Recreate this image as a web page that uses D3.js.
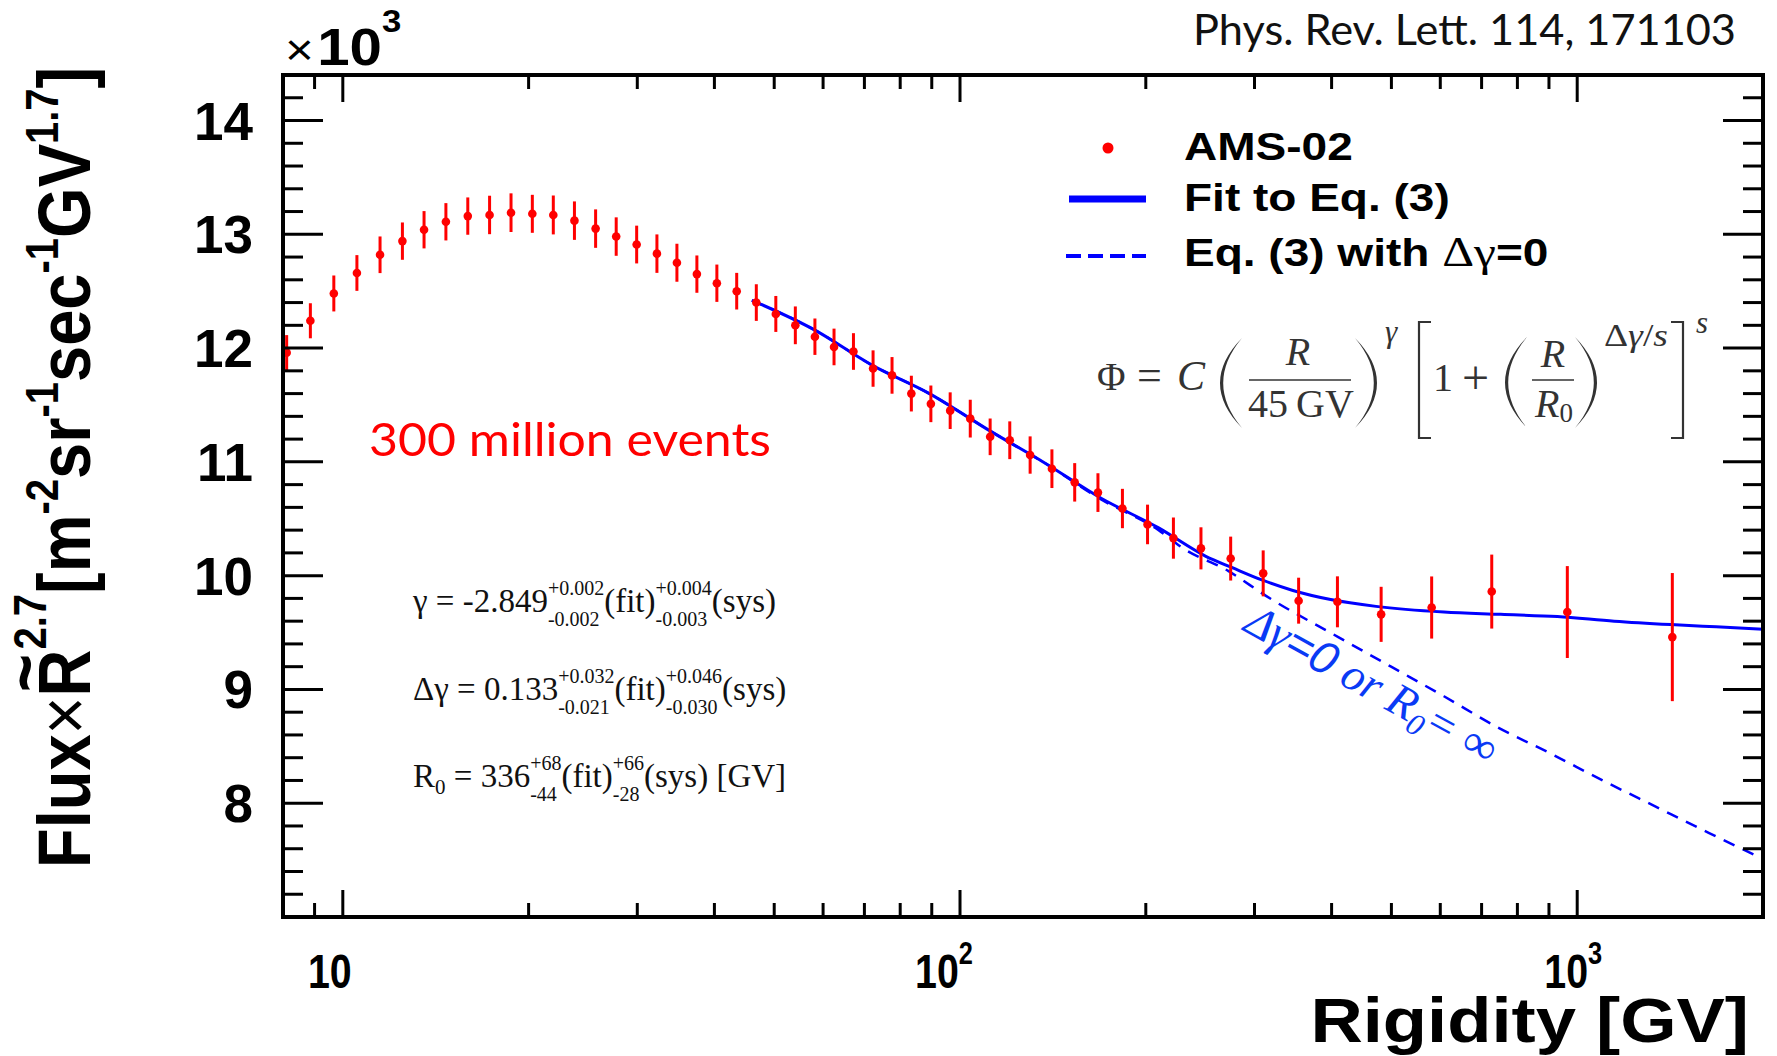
<!DOCTYPE html>
<html>
<head>
<meta charset="utf-8">
<script src="https://cdn.jsdelivr.net/npm/d3@7"></script>
<style>
  html, body { margin: 0; padding: 0; background: #fff; }
  svg { display: block; }
</style>
</head>
<body>
<svg id="chart" width="1777" height="1056"></svg>
<script>
// AMS-02 proton flux x R^2.7 (in units of 10^3)
const rigidity = [8.11, 8.86, 9.67, 10.54, 11.49, 12.49, 13.54, 14.69, 15.94, 17.29,
  18.73, 20.28, 21.93, 23.73, 25.68, 27.73, 29.93, 32.28, 34.78, 37.47,
  40.37, 43.47, 46.77, 50.3, 54.1, 58.2, 62.5, 67.2, 72.3, 77.6,
  83.4, 89.7, 96.4, 103.9, 111.9, 120.4, 129.9, 140.9, 153.4, 167.3,
  183.3, 201.3, 221.7, 245.7, 274.5, 309.9, 353.7, 408.8, 481.2, 581.0,
  727.0, 963.8, 1426];
const flux = [11.96, 12.24, 12.48, 12.66, 12.82, 12.94, 13.04, 13.11, 13.16, 13.17,
  13.19, 13.18, 13.17, 13.12, 13.05, 12.98, 12.91, 12.83, 12.75, 12.65,
  12.57, 12.50, 12.40, 12.30, 12.20, 12.10, 12.01, 11.97, 11.82, 11.76,
  11.60, 11.51, 11.45, 11.38, 11.22, 11.19, 11.06, 10.94, 10.82, 10.73,
  10.59, 10.45, 10.33, 10.24, 10.15, 10.02, 9.78, 9.77, 9.66, 9.72,
  9.86, 9.68, 9.46];
const fluxErr = [0.154, 0.154, 0.158, 0.157, 0.161, 0.164, 0.164, 0.164, 0.164, 0.169,
  0.170, 0.167, 0.171, 0.169, 0.169, 0.169, 0.166, 0.169, 0.167, 0.164,
  0.164, 0.161, 0.161, 0.158, 0.166, 0.160, 0.161, 0.161, 0.160, 0.161,
  0.157, 0.161, 0.161, 0.166, 0.161, 0.166, 0.164, 0.170, 0.169, 0.170,
  0.173, 0.174, 0.181, 0.185, 0.193, 0.202, 0.202, 0.224, 0.242, 0.273,
  0.325, 0.404, 0.563];

// fit to Eq. (3), sampled from the drawn curve
const fitRigidity = [46, 58.1, 72.0, 89.2, 112, 137.2, 169.3, 209.8, 250.2, 276.2,
  309.2, 346.2, 398.6, 472.1, 608.3, 751.8, 928.8, 1148, 1418, 1679, 2000];
const fitFlux = [12.42, 12.16, 11.85, 11.60, 11.27, 10.99, 10.68, 10.42, 10.17, 10.07,
  9.96, 9.87, 9.79, 9.73, 9.68, 9.66, 9.64, 9.60, 9.57, 9.55, 9.53];

// Eq. (3) with delta-gamma = 0, sampled from the dashed curve
const noBreakRigidity = [46, 58.1, 72.0, 89.2, 112, 137.2, 169.3, 209.8, 230, 272.3,
  313.6, 410.1, 499.4, 608.3, 741.2, 903, 1100, 1340, 1633, 2000];
const noBreakFlux = [12.42, 12.16, 11.85, 11.60, 11.27, 10.99, 10.67, 10.40, 10.24, 10.04,
  9.82, 9.46, 9.20, 8.94, 8.67, 8.44, 8.20, 7.97, 7.74, 7.51];

const yTickValues = [8, 9, 10, 11, 12, 13, 14];
const xTickValues = [10, 100, 1000];
const xTickExponents = ['', '2', '3'];
const xLabelNudge = [-13, -16, -4];

const SANS = 'Liberation Sans, Arial, Helvetica, sans-serif';
const SERIF = 'Liberation Serif, Times New Roman, serif';
const CAL = 'Lato, Open Sans, sans-serif';
const RED = '#ff0000';
const BLUE = '#0000ff';

const plot = { left: 283, right: 1763, top: 75, bottom: 917 };

const x = d3.scaleLog().domain([8, 2000]).range([plot.left, plot.right]);
const y = d3.scaleLinear().domain([7, 14.4]).range([plot.bottom, plot.top]);

const svg = d3.select('#chart');

svg.append('defs').append('clipPath').attr('id', 'plot-clip')
  .append('rect')
  .attr('x', plot.left).attr('y', plot.top)
  .attr('width', plot.right - plot.left).attr('height', plot.bottom - plot.top);

// text squeezed or stretched sideways, like the original picture
function wideText(parent, px, py, sx, anchor) {
  return parent.append('g')
    .attr('transform', `translate(${px},${py}) scale(${sx},1)`)
    .append('text')
    .attr('text-anchor', anchor || 'start');
}

// curves
const curve = d3.line()
  .x((d) => x(d[0]))
  .y((d) => y(d[1]))
  .curve(d3.curveMonotoneX);

svg.append('path')
  .datum(d3.zip(noBreakRigidity, noBreakFlux))
  .attr('d', curve)
  .attr('fill', 'none')
  .attr('stroke', BLUE)
  .attr('stroke-width', 2.5)
  .attr('stroke-dasharray', '12,9')
  .attr('clip-path', 'url(#plot-clip)');

svg.append('path')
  .datum(d3.zip(fitRigidity, fitFlux))
  .attr('d', curve)
  .attr('fill', 'none')
  .attr('stroke', BLUE)
  .attr('stroke-width', 3)
  .attr('clip-path', 'url(#plot-clip)');

// data points
const points = rigidity.map((r, i) => ({ r, f: flux[i], e: fluxErr[i] }));

svg.append('g')
  .selectAll('line')
  .data(points)
  .join('line')
  .attr('x1', (d) => x(d.r))
  .attr('x2', (d) => x(d.r))
  .attr('y1', (d) => y(d.f - d.e))
  .attr('y2', (d) => y(d.f + d.e))
  .attr('stroke', RED)
  .attr('stroke-width', 3);

svg.append('g')
  .selectAll('circle')
  .data(points)
  .join('circle')
  .attr('cx', (d) => x(d.r))
  .attr('cy', (d) => y(d.f))
  .attr('r', 4.3)
  .attr('fill', RED);

// frame and ticks on all four sides
const ticks = svg.append('g').attr('stroke', '#000').attr('stroke-width', 3);
const xMinor = x.ticks().filter((v) => v > 8.01 && v < 1999 && !xTickValues.includes(v));
const yMinor = d3.range(72, 144, 2).map((v) => v / 10).filter((v) => v % 1 !== 0);
const yMajor = d3.range(8, 15);

function xTick(v, len) {
  ticks.append('line').attr('x1', x(v)).attr('x2', x(v))
    .attr('y1', plot.bottom).attr('y2', plot.bottom - len);
  ticks.append('line').attr('x1', x(v)).attr('x2', x(v))
    .attr('y1', plot.top).attr('y2', plot.top + len);
}
function yTick(v, len) {
  ticks.append('line').attr('y1', y(v)).attr('y2', y(v))
    .attr('x1', plot.left).attr('x2', plot.left + len);
  ticks.append('line').attr('y1', y(v)).attr('y2', y(v))
    .attr('x1', plot.right).attr('x2', plot.right - len);
}
xTickValues.forEach((v) => xTick(v, 27));
xMinor.forEach((v) => xTick(v, 14));
yMajor.forEach((v) => yTick(v, 40));
yMinor.forEach((v) => yTick(v, 20));

svg.append('rect')
  .attr('x', plot.left).attr('y', plot.top)
  .attr('width', plot.right - plot.left).attr('height', plot.bottom - plot.top)
  .attr('fill', 'none').attr('stroke', '#000').attr('stroke-width', 4);

// y tick labels
svg.append('g')
  .selectAll('text')
  .data(yTickValues)
  .join('text')
  .attr('x', 253)
  .attr('y', (d) => y(d) + 19)
  .attr('text-anchor', 'end')
  .attr('font-family', SANS)
  .attr('font-weight', 'bold')
  .attr('font-size', 53)
  .text((d) => d);

// x tick labels (narrow in the original)
xTickValues.forEach((v, i) => {
  const t = wideText(svg, x(v) + xLabelNudge[i], 988, 0.82, 'middle')
    .attr('font-family', SANS).attr('font-weight', 'bold').attr('font-size', 48);
  t.append('tspan').text('10');
  if (xTickExponents[i]) {
    t.append('tspan').attr('font-size', 31).attr('dy', -24).text(xTickExponents[i]);
  }
});

// x10^3 multiplier
{
  const t = wideText(svg, 285, 65, 1.12).attr('font-family', SANS);
  t.append('tspan').attr('font-size', 44).text('×');
  t.append('tspan').attr('dx', 3).attr('font-size', 52).attr('font-weight', 'bold').text('10');
  t.append('tspan').attr('font-size', 31).attr('font-weight', 'bold').attr('dy', -33).text('3');
}

// axis titles
wideText(svg, 1749, 1042, 1.15, 'end')
  .attr('font-family', SANS).attr('font-weight', 'bold').attr('font-size', 63)
  .text('Rigidity [GV]');

{
  const g = svg.append('g').attr('transform', 'translate(90,868) scale(1.15,1) rotate(-90)');
  const t = g.append('text').attr('font-family', SANS).attr('font-weight', 'bold').attr('font-size', 65);
  const fs = 65;
  const sup = 40;
  const hi = 38;
  const lo = 28;
  t.append('tspan').text('Flux');
  t.append('tspan').attr('font-weight', 'normal').text('×');
  t.append('tspan').text('R');
  const wR = 0.722 * fs;
  const wT = 0.584 * fs;
  t.append('tspan').attr('dx', -(wR + wT) / 2).attr('dy', -0.54 * fs).text('~');
  t.append('tspan').attr('dx', (wR - wT) / 2).attr('dy', 0.54 * fs - hi).attr('font-size', sup).text('2.7');
  t.append('tspan').attr('dy', hi).text('[m');
  t.append('tspan').attr('dy', -lo).attr('font-size', sup).text('-2');
  t.append('tspan').attr('dy', lo).text('sr');
  t.append('tspan').attr('dy', -lo).attr('font-size', sup).text('-1');
  t.append('tspan').attr('dy', lo).text('sec');
  t.append('tspan').attr('dy', -lo).attr('font-size', sup).text('-1');
  t.append('tspan').attr('dy', lo).text('GV');
  t.append('tspan').attr('dy', -lo).attr('font-size', sup).text('1.7');
  t.append('tspan').attr('dy', lo).text(']');
}

// reference
svg.append('text')
  .attr('x', 1193).attr('y', 45)
  .attr('font-family', CAL).attr('font-size', 42)
  .attr('textLength', 543).attr('lengthAdjust', 'spacingAndGlyphs')
  .attr('fill', '#111')
  .text('Phys. Rev. Lett. 114, 171103');

// legend
svg.append('circle').attr('cx', 1108).attr('cy', 148).attr('r', 5.5).attr('fill', RED);
svg.append('line').attr('x1', 1069).attr('x2', 1146).attr('y1', 199).attr('y2', 199)
  .attr('stroke', BLUE).attr('stroke-width', 7);
svg.append('line').attr('x1', 1066).attr('x2', 1146).attr('y1', 256).attr('y2', 256)
  .attr('stroke', BLUE).attr('stroke-width', 4).attr('stroke-dasharray', '15,7');

const legendText = (py) => wideText(svg, 1184, py, 1.18)
  .attr('font-family', SANS).attr('font-weight', 'bold').attr('font-size', 39);
legendText(160).text('AMS-02');
legendText(211).text('Fit to Eq. (3)');
{
  const t = legendText(266);
  t.append('tspan').text('Eq. (3) with ');
  t.append('tspan').attr('font-family', SERIF).attr('font-weight', 'normal').attr('font-size', 42).text('Δγ');
  t.append('tspan').text('=0');
}

// events count
svg.append('text')
  .attr('x', 369).attr('y', 456)
  .attr('font-family', CAL).attr('font-size', 47)
  .attr('textLength', 402).attr('lengthAdjust', 'spacingAndGlyphs')
  .attr('fill', RED)
  .text('300 million events');

// fitted parameters
const params = svg.append('g').attr('font-family', SERIF).attr('fill', '#111');
function scriptLine(x0, base, pieces) {
  let cx = x0;
  pieces.forEach((p) => {
    if (typeof p === 'string') {
      const t = params.append('text').attr('x', cx).attr('y', base).attr('font-size', 33)
        .attr('xml:space', 'preserve').text(p);
      cx += t.node().getComputedTextLength();
    } else if (p.sub && !p.sup) {
      const t = params.append('text').attr('x', cx).attr('y', base + 7).attr('font-size', 21).text(p.sub);
      cx += t.node().getComputedTextLength();
    } else {
      const a = params.append('text').attr('x', cx).attr('y', base - 17).attr('font-size', 20).text(p.sup);
      const b = params.append('text').attr('x', cx).attr('y', base + 14).attr('font-size', 20).text(p.sub);
      cx += Math.max(a.node().getComputedTextLength(), b.node().getComputedTextLength());
    }
  });
}
scriptLine(413, 612, ['γ = -2.849', { sup: '+0.002', sub: '-0.002' }, '(fit)', { sup: '+0.004', sub: '-0.003' }, '(sys)']);
scriptLine(413, 700, ['Δγ = 0.133', { sup: '+0.032', sub: '-0.021' }, '(fit)', { sup: '+0.046', sub: '-0.030' }, '(sys)']);
scriptLine(413, 787, ['R', { sub: '0' }, '\u00a0= 336', { sup: '+68', sub: '-44' }, '(fit)', { sup: '+66', sub: '-28' }, '(sys) [GV]']);

// formula of Eq. (3)
{
  const ink = '#333';
  const f = svg.append('g').attr('font-family', SERIF).attr('fill', ink);
  const paren = (xl, xr, top, bottom, left) => {
    const mid = (top + bottom) / 2;
    const tip = left ? xr : xl;
    const far = left ? xl : xr;
    const th = left ? 3.2 : -3.2;
    const p = d3.path();
    p.moveTo(tip, top);
    p.quadraticCurveTo(2 * far - tip, mid, tip, bottom);
    p.quadraticCurveTo(2 * (far + th) - tip, mid, tip, top);
    p.closePath();
    f.append('path').attr('d', p.toString()).attr('fill', ink);
  };
  const bracket = (xl, xr, top, bottom, left) => {
    const p = d3.path();
    const a = left ? xr : xl;
    const b = left ? xl : xr;
    p.moveTo(a, top); p.lineTo(b, top); p.lineTo(b, bottom); p.lineTo(a, bottom);
    f.append('path').attr('d', p.toString()).attr('fill', 'none').attr('stroke', ink).attr('stroke-width', 2.2);
  };
  const rule = (x1, x2, py) => f.append('line').attr('x1', x1).attr('x2', x2).attr('y1', py).attr('y2', py)
    .attr('stroke', ink).attr('stroke-width', 1.6);

  f.append('text').attr('x', 1097).attr('y', 390).attr('font-size', 39).text('Φ');
  f.append('text').attr('x', 1137).attr('y', 390).attr('font-size', 44).text('=');
  f.append('text').attr('x', 1177).attr('y', 390).attr('font-size', 42).attr('font-style', 'italic').text('C');
  paren(1220, 1242, 338, 428, true);
  f.append('text').attr('x', 1298).attr('y', 365).attr('font-size', 40).attr('font-style', 'italic').attr('text-anchor', 'middle').text('R');
  rule(1249, 1351, 380);
  f.append('text').attr('x', 1301).attr('y', 417).attr('font-size', 40).attr('text-anchor', 'middle').text('45\u2009GV');
  paren(1355, 1377, 338, 428, false);
  f.append('text').attr('x', 1385).attr('y', 342).attr('font-size', 31).attr('font-style', 'italic').text('γ');
  bracket(1419, 1431, 322, 438, true);
  f.append('text').attr('x', 1433).attr('y', 391).attr('font-size', 40).text('1');
  f.append('text').attr('x', 1462).attr('y', 394).attr('font-size', 48).text('+');
  paren(1505, 1527, 337, 428, true);
  f.append('text').attr('x', 1553).attr('y', 367).attr('font-size', 40).attr('font-style', 'italic').attr('text-anchor', 'middle').text('R');
  rule(1532, 1574, 380);
  {
    const t = f.append('text').attr('x', 1554).attr('y', 417).attr('font-size', 40).attr('text-anchor', 'middle');
    t.append('tspan').attr('font-style', 'italic').text('R');
    t.append('tspan').attr('font-size', 27).attr('dy', 5).text('0');
  }
  paren(1575, 1597, 337, 428, false);
  {
    const t = f.append('text').attr('x', 1604).attr('y', 346).attr('font-size', 31)
      .attr('textLength', 64).attr('lengthAdjust', 'spacingAndGlyphs');
    t.append('tspan').text('Δ');
    t.append('tspan').attr('font-style', 'italic').text('γ');
    t.append('tspan').text('/');
    t.append('tspan').attr('font-style', 'italic').text('s');
  }
  bracket(1671, 1683, 322, 438, false);
  f.append('text').attr('x', 1696).attr('y', 333).attr('font-size', 31).attr('font-style', 'italic').text('s');
}

// note on the dashed curve
{
  const t = svg.append('g')
    .attr('transform', 'translate(1242,630) rotate(29)')
    .append('text')
    .attr('fill', '#0a3af5')
    .attr('font-family', SERIF)
    .attr('font-style', 'italic')
    .attr('font-size', 46);
  t.append('tspan').text('Δγ');
  t.append('tspan').attr('font-family', SANS).text('=0');
  t.append('tspan').text(' or R');
  t.append('tspan').attr('font-size', 31).attr('dy', 9).text('0');
  t.append('tspan').attr('dy', -9).text('= ∞');
}
</script>
</body>
</html>
